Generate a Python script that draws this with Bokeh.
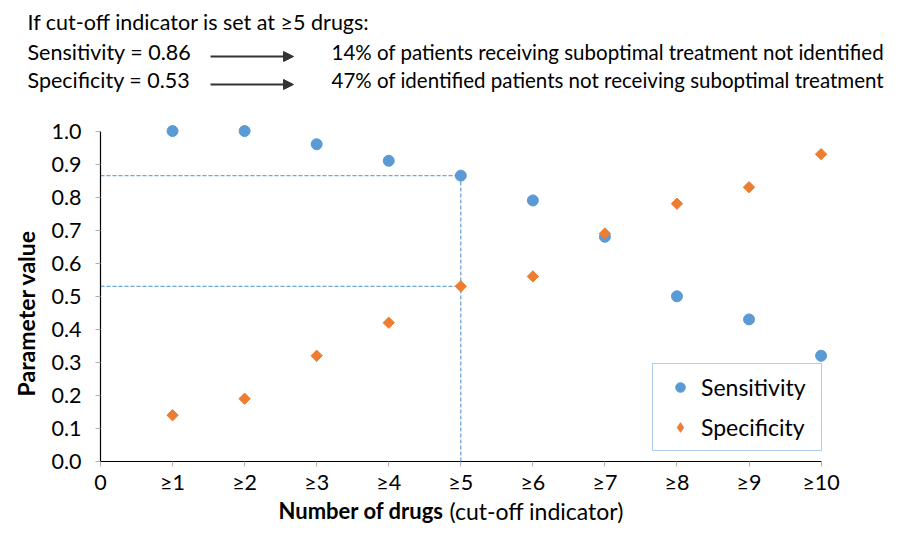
from bokeh.plotting import figure
from bokeh.layouts import column
from bokeh.models import Range1d, FixedTicker, Label, Arrow, NormalHead, Legend, LegendItem
from bokeh.embed import file_html
from bokeh.resources import INLINE

# ---- data ----
x_positions = [1, 2, 3, 4, 5, 6, 7, 8, 9, 10]
x_tick_values = [0, 1, 2, 3, 4, 5, 6, 7, 8, 9, 10]
x_tick_labels = ["0", "≥1", "≥2", "≥3", "≥4", "≥5", "≥6", "≥7", "≥8", "≥9", "≥10"]
y_tick_values = [0.0, 0.1, 0.2, 0.3, 0.4, 0.5, 0.6, 0.7, 0.8, 0.9, 1.0]
sensitivity = [1.00, 1.00, 0.96, 0.91, 0.865, 0.79, 0.68, 0.50, 0.43, 0.32]
specificity = [0.14, 0.19, 0.32, 0.42, 0.53, 0.56, 0.69, 0.78, 0.83, 0.93]
cutoff_index = 4
header_title = "If cut-off indicator is set at ≥5 drugs:"
header_left = ["Sensitivity = 0.86", "Specificity = 0.53"]
header_right = ["14% of patients receiving suboptimal treatment not identified",
                "47% of identified patients not receiving suboptimal treatment"]

BLUE = "#5b9bd5"
ORANGE = "#ed7d31"
FONT = "Lato"
W = 902

def blank(h):
    f = figure(width=W, height=h, x_range=Range1d(0, W), y_range=Range1d(0, h),
               output_backend="svg", toolbar_location=None,
               x_axis_type=None, y_axis_type=None,
               min_border=0, min_border_left=0, min_border_right=0,
               min_border_top=0, min_border_bottom=0)
    f.outline_line_color = None
    f.grid.visible = False
    f.frame_align = False
    return f

# ---- header ----
HH = 97
header = blank(HH)
head = dict(text_font=FONT, text_baseline="middle", text_align="left", text_color="black")
header.add_layout(Label(x=27, y=HH - 21, text=header_title, text_font_size="21.5px", **head))
for i, yy in enumerate((51, 79)):
    header.add_layout(Label(x=27, y=HH - yy, text=header_left[i],
                            text_font_size="21.5px", **head))
    header.add_layout(Label(x=331, y=HH - yy, text=header_right[i],
                            text_font_size="20.5px", **head))
    header.add_layout(Arrow(x_start=210, y_start=HH - yy - 5, x_end=293, y_end=HH - yy - 5,
                            line_color="#333333", line_width=2,
                            end=NormalHead(size=10, fill_color="#333333",
                                           line_color="#333333")))

# ---- main chart ----
p = figure(width=W, height=400,
           x_range=Range1d(0, 10.2), y_range=Range1d(0, 1.05),
           output_backend="svg", toolbar_location=None,
           min_border_left=100, min_border_right=67,
           min_border_top=17, min_border_bottom=33)
p.frame_align = False
p.outline_line_color = None
p.grid.visible = False

p.xaxis.ticker = FixedTicker(ticks=x_tick_values)
p.xaxis.major_label_overrides = {v: l for v, l in zip(x_tick_values, x_tick_labels)}
p.yaxis.ticker = FixedTicker(ticks=y_tick_values)
p.yaxis.major_label_overrides = {v: f"{v:.1f}" for v in y_tick_values}
p.xaxis.bounds = (0, 10)
p.yaxis.bounds = (0, 1)
for ax in (p.xaxis, p.yaxis):
    ax.axis_line_color = "black"
    ax.axis_line_width = 1.2
    ax.major_tick_line_color = "#b0b0b0"
    ax.major_tick_in = 0
    ax.major_tick_out = 5
    ax.minor_tick_line_color = None
    ax.major_label_text_font = FONT
    ax.major_label_text_font_size = "21.5px"
    ax.major_label_text_color = "black"
p.xaxis.major_label_standoff = 2
p.yaxis.major_label_standoff = 14
# trailing no-break spaces nudge the centred title down to the 0–1 span, as in the original
p.yaxis.axis_label = "Parameter value" + "\u00a0" * 9
p.yaxis.axis_label_text_font = FONT
p.yaxis.axis_label_text_font_style = "bold"
p.yaxis.axis_label_text_font_size = "23px"
p.yaxis.axis_label_text_color = "black"
p.yaxis.axis_label_standoff = 8

cx = x_positions[cutoff_index]
sv = sensitivity[cutoff_index]
spv = specificity[cutoff_index]
dash = dict(line_color=BLUE, line_width=1.3, line_dash="4 2", line_alpha=0.9)
p.line([0, cx], [sv, sv], **dash)
p.line([0, cx], [spv, spv], **dash)
p.line([cx, cx], [0, sv], **dash)

r_sens = p.scatter(x_positions, sensitivity, marker="circle", size=11,
                   fill_color=BLUE, line_color=BLUE)
r_spec = p.scatter(x_positions, specificity, marker="square", size=8, angle=0.785398,
                   fill_color=ORANGE, line_color=ORANGE)
# legend swatch (legend keys are not rotated): one undrawn NaN point
nan = float("nan")
r_spec_key = p.scatter([nan], [nan], marker="diamond", size=16,
                       fill_color=ORANGE, line_color=ORANGE)

legend = Legend(items=[LegendItem(label="Sensitivity", renderers=[r_sens]),
                       LegendItem(label="Specificity", renderers=[r_spec_key])],
                location=(552, 10))
legend.border_line_color = BLUE
legend.border_line_width = 1.5
legend.background_fill_color = "white"
legend.label_text_font = FONT
legend.label_text_font_size = "23px"
legend.label_text_color = "black"
legend.padding = 9
legend.spacing = 12
legend.glyph_width = 36
legend.glyph_height = 24
legend.label_height = 24
legend.label_standoff = 3
legend.label_width = 111
legend.margin = 0
p.add_layout(legend, "center")

# ---- footer: x axis title with mixed style ----
FH = 26
footer = blank(FH)
foot = dict(text_font=FONT, text_baseline="middle", text_align="left", text_color="black")
footer.add_layout(Label(x=278, y=FH / 2, text="Number of drugs", text_font_style="bold",
                        text_font_size="22px", **foot))
footer.add_layout(Label(x=449, y=FH / 2, text="(cut-off indicator)",
                        text_font_size="23px", **foot))

layout = column(header, p, footer, spacing=0)
open("out.html", "w").write(file_html(layout, INLINE))
